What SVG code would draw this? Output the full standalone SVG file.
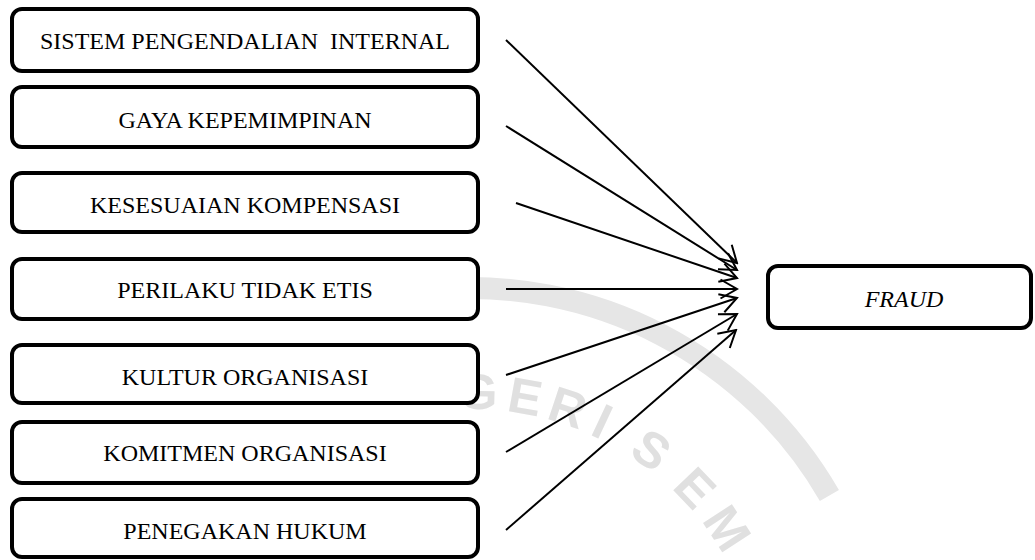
<svg xmlns="http://www.w3.org/2000/svg" width="1035" height="560" viewBox="0 0 1035 560">
  <style>
    .box { fill: #ffffff; stroke: #000000; stroke-width: 4; }
    .label { font-family: 'Liberation Serif', 'Times New Roman', serif; font-size: 24px; fill: #000000; text-anchor: middle; }
    .italic { font-style: italic; }
    .edge { stroke: #000000; stroke-width: 2; fill: none; marker-end: url(#open-arrow); }
    .seal-ring { fill: none; stroke: #e6e6e6; stroke-width: 22; }
    .seal-text { font-family: 'Liberation Sans', Arial, sans-serif; font-size: 50px; font-weight: bold; fill: #e0e0e0; text-anchor: middle; dominant-baseline: central; }
  </style>
  <defs>
    <marker id="open-arrow" markerUnits="userSpaceOnUse" viewBox="-20 -12 22 24" refX="0" refY="0" markerWidth="22" markerHeight="24" orient="auto">
      <path d="M -16.5 -9.5 L 0 0 L -16.5 9.5" fill="none" stroke="#000000" stroke-width="2"/>
    </marker>
  </defs>

  <rect width="1035" height="560" fill="#ffffff"/>

  <!-- faint seal in the background -->
  <g id="seal">
    <path class="seal-ring" d="M 433.8 289.6 A 415 415 0 0 1 829.4 495.5"/>
    <text class="seal-text" transform="translate(478.1 392.1) rotate(1.5)">G</text>
    <text class="seal-text" transform="translate(525.1 396.9) rotate(10.2)">E</text>
    <text class="seal-text" transform="translate(567.7 407.7) rotate(18.3)">R</text>
    <text class="seal-text" transform="translate(602.4 421.6) rotate(25.2)">I</text>
    <text class="seal-text" transform="translate(651.1 450.1) rotate(35.6)">S</text>
    <text class="seal-text" transform="translate(694.9 488.1) rotate(46.3)">E</text>
    <text class="seal-text" transform="translate(727.0 528.2) rotate(56.7)">M</text>
  </g>

  <!-- independent variables -->
  <g id="node-spi">
    <rect class="box" x="12" y="9" width="466" height="62" rx="10"/>
    <text class="label" x="245" y="49" xml:space="preserve">SISTEM PENGENDALIAN  INTERNAL</text>
  </g>
  <g id="node-gaya">
    <rect class="box" x="12" y="87" width="466" height="60" rx="10"/>
    <text class="label" x="245" y="128">GAYA KEPEMIMPINAN</text>
  </g>
  <g id="node-kompensasi">
    <rect class="box" x="12" y="173" width="466" height="59" rx="10"/>
    <text class="label" x="245" y="213">KESESUAIAN KOMPENSASI</text>
  </g>
  <g id="node-perilaku">
    <rect class="box" x="12" y="259" width="466" height="60" rx="10"/>
    <text class="label" x="245" y="298">PERILAKU TIDAK ETIS</text>
  </g>
  <g id="node-kultur">
    <rect class="box" x="12" y="345" width="466" height="58" rx="10"/>
    <text class="label" x="245" y="385">KULTUR ORGANISASI</text>
  </g>
  <g id="node-komitmen">
    <rect class="box" x="12" y="422" width="466" height="61" rx="10"/>
    <text class="label" x="245" y="461">KOMITMEN ORGANISASI</text>
  </g>
  <g id="node-hukum">
    <rect class="box" x="12" y="499" width="466" height="58" rx="10"/>
    <text class="label" x="245" y="539">PENEGAKAN HUKUM</text>
  </g>

  <!-- dependent variable -->
  <g id="node-fraud">
    <rect class="box" x="768" y="266" width="263" height="62" rx="10"/>
    <text class="label italic" x="904" y="307">FRAUD</text>
  </g>

  <!-- connectors -->
  <g id="connectors">
    <line class="edge" x1="506" y1="40" x2="737" y2="263"/>
    <line class="edge" x1="506" y1="126" x2="737" y2="270"/>
    <line class="edge" x1="516" y1="203" x2="737" y2="278"/>
    <line class="edge" x1="506" y1="289" x2="737" y2="289"/>
    <line class="edge" x1="506" y1="375" x2="737" y2="298"/>
    <line class="edge" x1="506" y1="452" x2="737" y2="314"/>
    <line class="edge" x1="506" y1="530" x2="736" y2="330"/>
  </g>
</svg>
